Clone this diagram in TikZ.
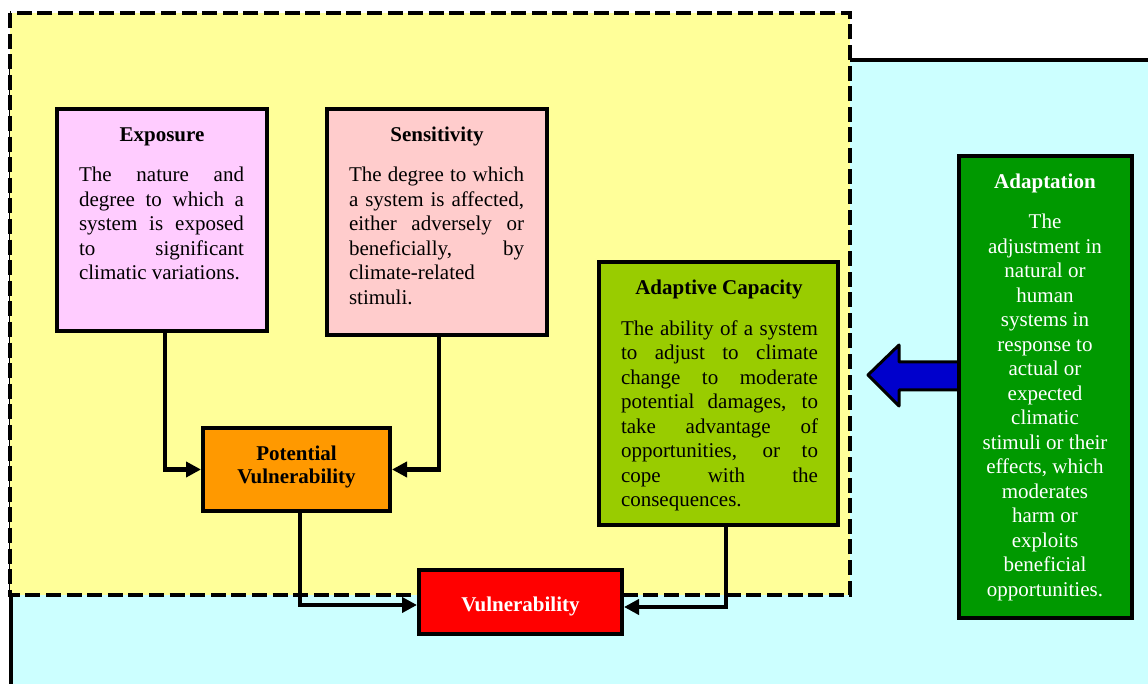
\documentclass[tikz,border=0pt]{standalone}
\usepackage{fontspec}
\setmainfont{Liberation Serif}
\usetikzlibrary{arrows.meta}
\definecolor{yel}{HTML}{FFFF99}
\definecolor{cyanbg}{HTML}{CCFFFF}
\definecolor{pinkbox}{HTML}{FFCCFF}
\definecolor{rosebox}{HTML}{FFCCCC}
\definecolor{orangebox}{HTML}{FF9900}
\definecolor{redbox}{HTML}{FF0000}
\definecolor{limebox}{HTML}{99CC00}
\definecolor{greenbox}{HTML}{009900}
\definecolor{arrowblue}{HTML}{0000CC}
\begin{document}
\begin{tikzpicture}[x=0.5pt,y=-0.5pt,
  box/.style={draw=black, line width=2pt, rectangle, inner sep=0pt},
  ttl/.style={font=\fontsize{10.5}{12.25}\selectfont\bfseries, anchor=base, inner sep=0pt},
  body/.style={font=\fontsize{10.5}{12.25}\selectfont, anchor=north, inner sep=0pt, align=justify},
  conn/.style={line width=2.2pt, -{Triangle[length=7.5pt,width=7.5pt]}}]
\useasboundingbox (0,0) rectangle (1148,684);
\clip (0,0) rectangle (1148,684);
% backgrounds
\fill[cyanbg] (11,60) rectangle (1160,700);
\draw[line width=2pt] (11,700) -- (11,60) -- (1160,60);
\draw[fill=yel, line width=2pt, dash pattern=on 7.5pt off 2.8pt] (10,13) rectangle (850,595);
% boxes
\node[box, fill=pinkbox, minimum width=105pt, minimum height=111pt] (expo) at (162,220) {};
\node[box, fill=rosebox, minimum width=110pt, minimum height=113pt] (sens) at (437,222) {};
\node[box, fill=orangebox, minimum width=93.5pt, minimum height=41.5pt] (pot) at (296.5,469.5) {};
\node[box, fill=redbox, minimum width=101.5pt, minimum height=32pt] (vul) at (520.5,602) {};
\node[box, fill=limebox, minimum width=119.5pt, minimum height=131.5pt] (adcap) at (718.5,393.5) {};
% blue arrow
\draw[line width=1.5pt, fill=arrowblue, line join=round]
  (965,362) -- (899,362) -- (899,345) -- (868,375) -- (899,406) -- (899,390) -- (965,390) -- cycle;
\node[box, fill=greenbox, minimum width=86.5pt, minimum height=231pt] (adapt) at (1045.5,387) {};
% titles
\node[ttl] (expoT) at (162,141.5) {Exposure};
\node[ttl] (sensT) at (437,141.5) {Sensitivity};
\node[ttl] (adcapT) at (719,294.5) {Adaptive Capacity};
\node[ttl, text=white] (adaptT) at (1045,189) {Adaptation};
\node[font=\fontsize{10.5}{11.5}\selectfont\bfseries, align=center, anchor=north, inner sep=0pt]
  (potT) at (296.5,446) {Potential\\Vulnerability};
\node[ttl, text=white] (vulT) at (520.5,612) {Vulnerability};
% bodies
\node[body, text width=82.5pt] (expoB) at (161.5,167)
  {The nature and\linebreak degree to which a\linebreak system is exposed\linebreak to significant\linebreak climatic variations.};
\node[body, text width=87.5pt] (sensB) at (436.5,167)
  {The degree to which\linebreak a system is affected,\linebreak either adversely or\linebreak beneficially, by\linebreak climate-related\linebreak stimuli.};
\node[body, text width=98.5pt] (adcapB) at (719.5,320)
  {The ability of a system\linebreak to adjust to climate\linebreak change to moderate\linebreak potential damages, to\linebreak take advantage of\linebreak opportunities, or to\linebreak cope with the\linebreak consequences.};
\node[body, align=center, text=white] (adaptB) at (1045,214)
  {The\\adjustment in\\natural or\\human\\systems in\\response to\\actual or\\expected\\climatic\\stimuli or their\\effects, which\\moderates\\harm or\\exploits\\beneficial\\opportunities.};
% connectors
\draw[conn] ([xshift=1.5pt]expo.south) |- (pot.west);
\draw[conn] ([xshift=1pt]sens.south) |- (pot.east);
\draw[conn] ([xshift=1.75pt]pot.south) |- ([yshift=-1.5pt]vul.west);
\draw[conn] ([xshift=3.75pt]adcap.south) |- ([yshift=-2.5pt]vul.east);
\end{tikzpicture}
\end{document}
